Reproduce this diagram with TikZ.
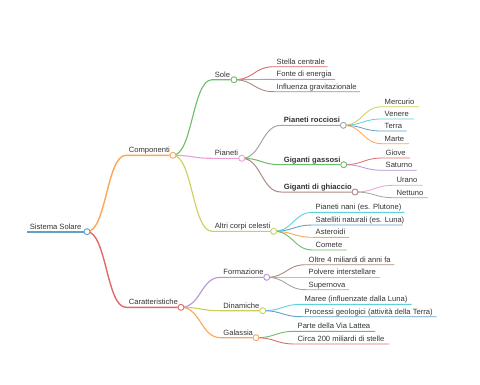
\documentclass[tikz,border=0pt]{standalone}
\usepackage{fontspec}
\setmainfont{Liberation Sans}
\usetikzlibrary{calc,backgrounds}
\definecolor{kblue}{HTML}{1F77B4}
\definecolor{korange}{HTML}{FF7F0E}
\definecolor{kgreen}{HTML}{2CA02C}
\definecolor{kred}{HTML}{D62728}
\definecolor{kpurple}{HTML}{9467BD}
\definecolor{kbrown}{HTML}{8C564B}
\definecolor{kpink}{HTML}{E377C2}
\definecolor{kgray}{HTML}{7F7F7F}
\definecolor{kolive}{HTML}{BCBD22}
\definecolor{kcyan}{HTML}{17BECF}
\definecolor{txt}{HTML}{333333}
\colorlet{cB}{kblue!70!white}
\colorlet{cO}{korange!70!white}
\colorlet{cG}{kgreen!70!white}
\colorlet{cR}{kred!70!white}
\colorlet{cP}{kpurple!70!white}
\colorlet{cBr}{kbrown!70!white}
\colorlet{cPk}{kpink!70!white}
\colorlet{cGy}{kgray!70!white}
\colorlet{cOl}{kolive!75!white}
\colorlet{cC}{kcyan!70!white}
\tikzset{
  lbl/.style={anchor=base west, inner sep=0pt, font=\fontsize{7.6}{9}\selectfont, text=txt},
  dot/.style={circle, draw=#1, fill=white, line width=0.9pt, minimum size=6pt, inner sep=0pt},
}
\newcommand\mminner[6]{%
  \coordinate (#1-s) at (#2,#4);
  \node[dot=#5] (#1) at (#3,#4) {};
  \node[lbl] (#1-t) at (#2+2.7,#4-2.5) {#6};}
\newcommand\mmleaf[5]{%
  \coordinate (#1-s) at (#2,#4);
  \coordinate (#1) at (#3,#4);
  \node[lbl] (#1-t) at (#2+2.5,#4-2.5) {#5};}
\newcommand\mmedge[4]{%
  \draw[#3, line width=#4] let \p1=(#1), \p2=(#2-s) in
    (\p1) .. controls ({0.5*\x1+0.5*\x2},\y1) and ({0.5*\x1+0.5*\x2},\y2) .. (\p2) -- (#2);}
\begin{document}
\begin{tikzpicture}[x=1pt,y=-1pt]
\useasboundingbox (0,0) rectangle (480,384);
% inner nodes
\mminner{root}{27}{87}{231.7}{cB}{Sistema Solare}
\mminner{comp}{126}{173}{155.3}{cO}{Componenti}
\mminner{car}{126}{181}{307.3}{cR}{Caratteristiche}
\mminner{sole}{212}{234}{79.7}{cG}{Sole}
\mminner{pia}{212}{241.7}{158.3}{cPk}{Pianeti}
\mminner{altri}{212}{273.7}{231.3}{cOl}{Altri corpi celesti}
\mminner{form}{220.5}{266.7}{277.3}{cP}{Formazione}
\mminner{dina}{220.5}{262.7}{310.7}{cOl}{Dinamiche}
\mminner{gal}{220.5}{256}{337.7}{cO}{Galassia}
\mminner{rocc}{281}{343.3}{125.3}{cGy}{\textbf{Pianeti rocciosi}}
\mminner{gass}{281}{343.7}{164.7}{cG}{\textbf{Giganti gassosi}}
\mminner{ghia}{281}{355}{192}{cBr}{\textbf{Giganti di ghiaccio}}
% leaves
\mmleaf{stella}{274}{327.7}{66.7}{Stella centrale}
\mmleaf{fonte}{274}{335}{79.3}{Fonte di energia}
\mmleaf{infl}{274}{360}{91.7}{Influenza gravitazionale}
\mmleaf{merc}{382}{419}{106.7}{Mercurio}
\mmleaf{ven}{382}{414}{119}{Venere}
\mmleaf{terra}{382}{406.7}{131}{Terra}
\mmleaf{marte}{382}{409}{143.7}{Marte}
\mmleaf{giove}{383}{410}{158}{Giove}
\mmleaf{sat}{383}{416.7}{170.3}{Saturno}
\mmleaf{urano}{394}{422.7}{185.3}{Urano}
\mmleaf{nett}{394}{428}{197.7}{Nettuno}
\mmleaf{nani}{313}{404.3}{212.3}{Pianeti nani (es. Plutone)}
\mmleaf{satl}{313}{402.7}{225}{Satelliti naturali (es. Luna)}
\mmleaf{ast}{313}{349}{237.3}{Asteroidi}
\mmleaf{com}{313}{346.7}{250}{Comete}
\mmleaf{oltre}{306}{394.3}{264.7}{Oltre 4 miliardi di anni fa}
\mmleaf{polv}{306}{380}{277.3}{Polvere interstellare}
\mmleaf{super}{306}{349}{289.7}{Supernova}
\mmleaf{maree}{302}{411.7}{304.3}{Maree (influenzate dalla Luna)}
\mmleaf{proc}{302}{436.7}{316.7}{Processi geologici (attività della Terra)}
\mmleaf{parte}{295}{375}{331.3}{Parte della Via Lattea}
\mmleaf{circa}{295}{389}{344}{Circa 200 miliardi di stelle}
\begin{pgfonlayer}{background}
\draw[cB, line width=1.8pt] (root-s) -- (root);
\mmedge{root}{comp}{cO}{1.4pt}
\mmedge{root}{car}{cR}{1.4pt}
\mmedge{comp}{sole}{cG}{1.1pt}
\mmedge{comp}{pia}{cPk}{1.1pt}
\mmedge{comp}{altri}{cOl}{1.1pt}
\mmedge{car}{form}{cP}{1.1pt}
\mmedge{car}{dina}{cOl}{1.1pt}
\mmedge{car}{gal}{cO}{1.1pt}
\mmedge{pia}{rocc}{cGy}{1pt}
\mmedge{pia}{gass}{cG}{1pt}
\mmedge{pia}{ghia}{cBr}{1pt}
\mmedge{sole}{stella}{cR}{0.9pt}
\mmedge{sole}{fonte}{cP}{0.9pt}
\mmedge{sole}{infl}{cBr}{0.9pt}
\mmedge{rocc}{merc}{cOl}{0.8pt}
\mmedge{rocc}{ven}{cC}{0.8pt}
\mmedge{rocc}{terra}{cB}{0.8pt}
\mmedge{rocc}{marte}{cO}{0.8pt}
\mmedge{gass}{giove}{cR}{0.8pt}
\mmedge{gass}{sat}{cP}{0.8pt}
\mmedge{ghia}{urano}{cPk}{0.8pt}
\mmedge{ghia}{nett}{cGy}{0.8pt}
\mmedge{altri}{nani}{cC}{0.9pt}
\mmedge{altri}{satl}{cB}{0.9pt}
\mmedge{altri}{ast}{cO}{0.9pt}
\mmedge{altri}{com}{cG}{0.9pt}
\mmedge{form}{oltre}{cBr}{0.9pt}
\mmedge{form}{polv}{cPk}{0.9pt}
\mmedge{form}{super}{cGy}{0.9pt}
\mmedge{dina}{maree}{cC}{0.9pt}
\mmedge{dina}{proc}{cB}{0.9pt}
\mmedge{gal}{parte}{cG}{0.9pt}
\mmedge{gal}{circa}{cR}{0.9pt}
\end{pgfonlayer}
\end{tikzpicture}
\end{document}
